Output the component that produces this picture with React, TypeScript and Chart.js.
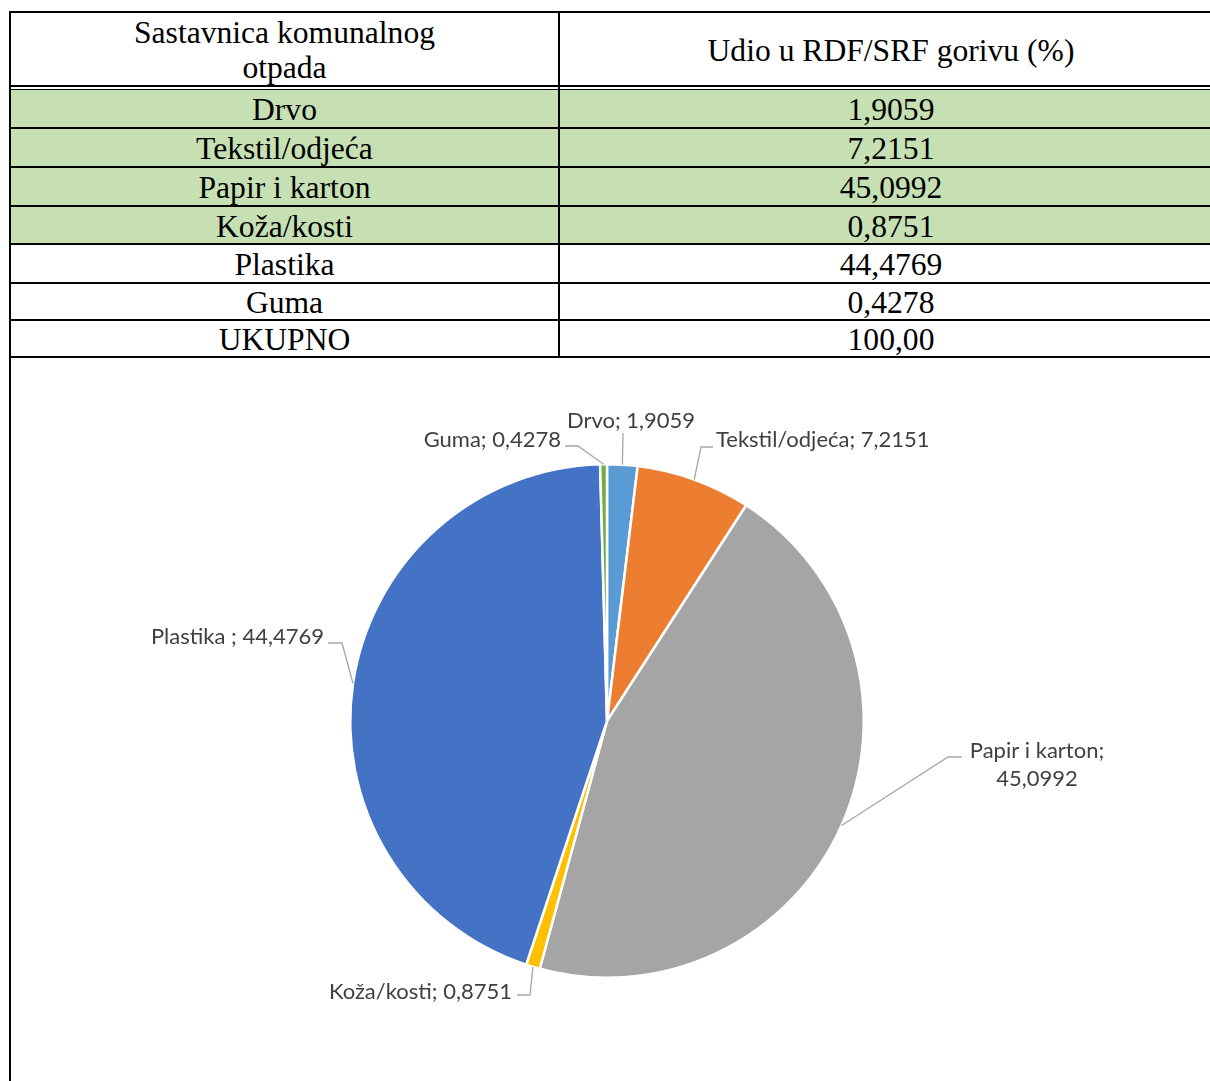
import React, { useEffect, useRef } from "react";
import { Chart, registerables } from "chart.js";

Chart.register(...registerables);

// ---- Table data ----
const headerCol1 = ["Sastavnica komunalnog", "otpada"];
const headerCol2 = "Udio u RDF/SRF gorivu (%)";
const tableCategories = ["Drvo", "Tekstil/odjeća", "Papir i karton", "Koža/kosti", "Plastika", "Guma", "UKUPNO"];
const tableValues = ["1,9059", "7,2151", "45,0992", "0,8751", "44,4769", "0,4278", "100,00"];
const greenRows = [true, true, true, true, false, false, false];

// ---- Pie data ----
const pieLabels = ["Drvo", "Tekstil/odjeća", "Papir i karton", "Koža/kosti", "Plastika ", "Guma"];
const pieValues = [1.9059, 7.2151, 45.0992, 0.8751, 44.4769, 0.4278];
const pieColors = ["#5B9BD5", "#ED7D31", "#A5A5A5", "#FFC000", "#4472C4", "#70AD47"];

// Label layout (offsets from the pie centre, px)
const labelLayout = [
  { tx: 24, ty: -300, align: "center", ex: 16, ey: -288, hx: 16, lines: 1 },
  { tx: 109, ty: -281, align: "left", ex: 94, ey: -274, hx: 106, lines: 1 },
  { tx: 430, ty: 30, align: "center", ex: 341, ey: 36, hx: 355, lines: 2 },
  { tx: -95, ty: 271, align: "right", ex: -77, ey: 274, hx: -90, lines: 1 },
  { tx: -283, ty: -84, align: "right", ex: -265, ey: -78, hx: -279, lines: 1 },
  { tx: -46, ty: -281, align: "right", ex: -29, ey: -275, hx: -42, lines: 1 },
];

const fmt = (v: number) => v.toFixed(4).replace(".", ",");

const labelPlugin = {
  id: "excelLabels",
  afterDraw(chart: any) {
    const ctx = chart.ctx;
    const meta = chart.getDatasetMeta(0);
    ctx.save();
    meta.data.forEach((arc: any, i: number) => {
      const { x, y, startAngle, endAngle, outerRadius } = arc.getProps(
        ["x", "y", "startAngle", "endAngle", "outerRadius"],
        true
      );
      const mid = (startAngle + endAngle) / 2;
      const ax = x + Math.cos(mid) * outerRadius;
      const ay = y + Math.sin(mid) * outerRadius;
      const L = labelLayout[i];
      ctx.strokeStyle = "#A6A6A6";
      ctx.lineWidth = 1.3;
      ctx.beginPath();
      ctx.moveTo(ax, ay);
      ctx.lineTo(x + L.ex, y + L.ey);
      ctx.lineTo(x + L.hx, y + L.ey);
      ctx.stroke();

      ctx.fillStyle = "#404040";
      ctx.font = "22px Lato";
      ctx.textAlign = L.align as CanvasTextAlign;
      ctx.textBaseline = "middle";
      const name = pieLabels[i];
      const val = fmt(pieValues[i]);
      if (L.lines === 2) {
        ctx.fillText(name + ";", x + L.tx, y + L.ty);
        ctx.fillText(val, x + L.tx, y + L.ty + 28);
      } else {
        ctx.fillText(name + "; " + val, x + L.tx, y + L.ty);
      }
    });
    ctx.restore();
  },
};

const rowTops = [90, 129, 168, 207, 245, 284, 321];
const rowBottoms = [127, 166, 205, 243, 282, 319, 356];
const rowLines = [127, 166, 205, 243, 282, 319, 356];

const serif = "'Liberation Serif', 'Times New Roman', Times, serif";
const FS = 31.6;

export default function App() {
  const ref = useRef<HTMLCanvasElement>(null);

  useEffect(() => {
    if (!ref.current) return;
    const chart = new Chart(ref.current, {
      type: "pie",
      data: {
        labels: pieLabels,
        datasets: [
          {
            data: pieValues,
            backgroundColor: pieColors,
            borderColor: "#FFFFFF",
            borderWidth: 2.5,
          },
        ],
      },
      options: {
        animation: false,
        responsive: false,
        maintainAspectRatio: false,
        layout: { padding: { left: 337, right: 345, top: 105, bottom: 102 } },
        plugins: { legend: { display: false }, tooltip: { enabled: false } },
      },
      plugins: [labelPlugin],
    });
    return () => chart.destroy();
  }, []);

  const line = (top: number, h: number, key: string) => (
    <div key={key} style={{ position: "absolute", left: 9, top, width: 1240, height: h, background: "#000" }} />
  );

  const cell = (left: number, width: number, top: number, height: number): React.CSSProperties => ({
    position: "absolute",
    left,
    top,
    width,
    height,
    display: "flex",
    alignItems: "center",
    justifyContent: "center",
    fontSize: FS,
    lineHeight: 1,
    fontFamily: serif,
    paddingTop: 3,
    boxSizing: "border-box",
  });

  return (
    <div
      style={{
        position: "fixed",
        left: 0,
        top: 0,
        width: 1210,
        height: 1081,
        overflow: "hidden",
        background: "#fff",
        fontFamily: serif,
        color: "#000",
      }}
    >
      {/* green background */}
      <div style={{ position: "absolute", left: 11, top: 90, width: 1240, height: 153, background: "#C6E0B4" }} />
      {/* borders */}
      <div style={{ position: "absolute", left: 9, top: 11, width: 2, height: 1100, background: "#000" }} />
      <div style={{ position: "absolute", left: 558, top: 11, width: 2, height: 347, background: "#000" }} />
      {line(11, 2, "top")}
      {line(85, 2, "h1")}
      {line(89, 1, "h2")}
      {rowLines.map((t, i) => line(t, 2, "r" + i))}

      {/* header */}
      <div
        style={{
          position: "absolute",
          left: 11,
          top: 14,
          width: 547,
          height: 72,
          display: "flex",
          flexDirection: "column",
          alignItems: "center",
          justifyContent: "center",
          fontSize: FS,
          lineHeight: "35px",
          fontFamily: serif,
        }}
      >
        {headerCol1.map((t) => (
          <div key={t}>{t}</div>
        ))}
      </div>
      <div
        style={{
          position: "absolute",
          left: 560,
          top: 14,
          width: 662,
          height: 72,
          display: "flex",
          alignItems: "center",
          justifyContent: "center",
          fontSize: FS,
          lineHeight: "35px",
          fontFamily: serif,
        }}
      >
        {headerCol2}
      </div>

      {tableCategories.map((c, i) => (
        <React.Fragment key={c}>
          <div style={cell(11, 547, rowTops[i], rowBottoms[i] - rowTops[i])}>{c}</div>
          <div style={cell(560, 662, rowTops[i], rowBottoms[i] - rowTops[i])}>{tableValues[i]}</div>
        </React.Fragment>
      ))}

      <canvas
        ref={ref}
        width={1198}
        height={723}
        style={{ position: "absolute", left: 12, top: 358, width: 1198, height: 723 }}
      />
    </div>
  );
}
